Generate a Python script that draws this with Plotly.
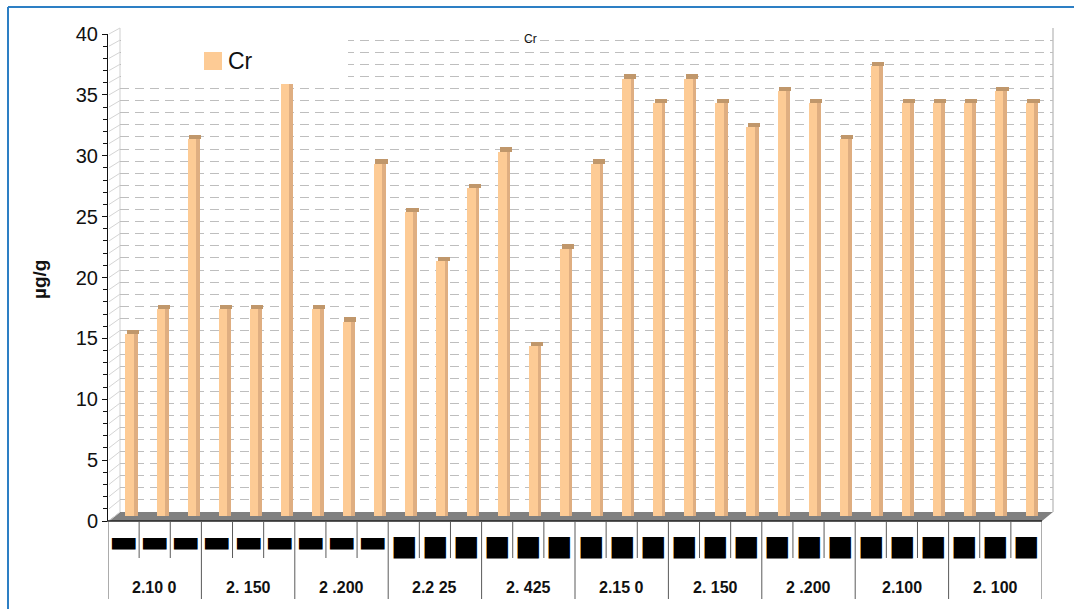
import plotly.graph_objects as go

# ---------------- data ----------------
cr_values = [15, 17, 31, 17, 17, 36, 17, 16, 29, 25, 21, 27, 30, 14, 22,
             29, 36, 34, 36, 34, 32, 35, 34, 31, 37, 34, 34, 34, 35, 34]
group_labels = ["2.10 0", "2. 150", "2 .200", "2.2 25", "2. 425",
                "2.15 0", "2. 150", "2 .200", "2.100", "2. 100"]
sub_labels = (["▬"] * 9) + (["■"] * 21)
series_name = "Cr"
y_title = "µg/g"

W, H = 1074, 609
def fx(p):
    return p / W
def fy(p):
    return 1 - p / H

n = len(cr_values)
idx = list(range(n))

fig = go.Figure()

# back wall grid subplot (x, y)
fig.add_trace(go.Scatter(x=[], y=[], xaxis="x", yaxis="y", showlegend=False, hoverinfo="skip"))

# bars (x2, y2)
bar_w = 0.39
fig.add_trace(go.Bar(x=idx, y=cr_values, xaxis="x2", yaxis="y2", name=series_name,
                     width=bar_w, offset=-bar_w / 2, marker=dict(color="#FDCB95", line=dict(width=0)),
                     showlegend=False, hoverinfo="skip"))
fig.add_trace(go.Bar(x=idx, y=cr_values, xaxis="x2", yaxis="y2",
                     width=0.115, offset=bar_w / 2 - 0.115, marker=dict(color="#DFAE81", line=dict(width=0)),
                     showlegend=False, hoverinfo="skip"))
fig.add_trace(go.Bar(x=idx, y=[0.35] * n, base=cr_values, xaxis="x2", yaxis="y2",
                     width=bar_w, offset=-bar_w / 2 + 0.05, marker=dict(color="#C0976B", line=dict(width=0)),
                     showlegend=False, hoverinfo="skip"))

# front axis subplot (x3, y3)
fig.add_trace(go.Scatter(x=[], y=[], xaxis="x3", yaxis="y3", showlegend=False, hoverinfo="skip"))

shapes = []
# floor
shapes.append(dict(type="path", xref="paper", yref="paper", layer="below",
                   path=f"M {fx(108)},{fy(521)} L {fx(120)},{fy(512)} L {fx(1053)},{fy(512)} L {fx(1042)},{fy(521)} Z",
                   fillcolor="#808080", line=dict(width=0)))
# back wall edges
shapes.append(dict(type="line", xref="paper", yref="paper", layer="below",
                   x0=fx(120), x1=fx(120), y0=fy(512), y1=fy(28), line=dict(color="#CFCFCF", width=1)))
shapes.append(dict(type="line", xref="paper", yref="paper", layer="below",
                   x0=fx(1053), x1=fx(1053), y0=fy(512), y1=fy(28), line=dict(color="#C4C4C4", width=1.5)))
# side wall diagonals
for v in range(0, 41):
    y_front = 521 - v * (487 / 40)
    y_back = 512 - v * (484 / 40)
    shapes.append(dict(type="line", xref="paper", yref="paper", layer="below",
                       x0=fx(109), x1=fx(120), y0=fy(y_front), y1=fy(y_back),
                       line=dict(color="#D4D4D4", width=1)))
# front edge
shapes.append(dict(type="line", xref="paper", yref="paper", layer="above",
                   x0=fx(107), x1=fx(1042), y0=fy(521), y1=fy(521), line=dict(color="#222222", width=1.5)))
# category table dividers
for i in range(n + 1):
    bottom = 599 if i % 3 == 0 else 558
    shapes.append(dict(type="line", xref="x3", yref="paper", layer="above",
                       x0=i - 0.5, x1=i - 0.5, y0=fy(521), y1=fy(bottom),
                       line=dict(color="#5A5A5A", width=1)))
# legend box
shapes.append(dict(type="rect", xref="paper", yref="paper", layer="above",
                   x0=fx(121), x1=fx(348), y0=fy(84), y1=fy(30), fillcolor="white", line=dict(width=0)))
shapes.append(dict(type="rect", xref="paper", yref="paper", layer="above",
                   x0=fx(204), x1=fx(222), y0=fy(70), y1=fy(52), fillcolor="#FDCB95", line=dict(width=0)))
# outer blue frame (top and left visible)
shapes.append(dict(type="line", xref="paper", yref="paper", layer="above",
                   x0=fx(8), x1=1.0, y0=fy(7), y1=fy(7), line=dict(color="#2D7FC4", width=2)))
shapes.append(dict(type="line", xref="paper", yref="paper", layer="above",
                   x0=fx(8), x1=fx(8), y0=fy(7), y1=0.0, line=dict(color="#2D7FC4", width=2)))

annotations = []
for i, s in enumerate(sub_labels):
    small = (s == "▬")
    annotations.append(dict(xref="x3", yref="paper", x=i, y=fy(541 if small else 545), text=s, showarrow=False,
                            font=dict(family="DejaVu Sans", size=(31 if small else 28), color="black"),
                            xanchor="center", yanchor="middle"))
for g, lab in enumerate(group_labels):
    annotations.append(dict(xref="x3", yref="paper", x=3 * g + 1, y=fy(587), text=f"<b>{lab}</b>",
                            showarrow=False, font=dict(family="Liberation Sans", size=16, color="#111111"),
                            xanchor="center", yanchor="middle"))
annotations.append(dict(xref="paper", yref="paper", x=fx(226), y=fy(61), text=series_name, showarrow=False,
                        font=dict(family="Liberation Sans", size=23, color="#111111"),
                        xanchor="left", yanchor="middle"))
annotations.append(dict(xref="paper", yref="paper", x=fx(530), y=fy(39), text=series_name, showarrow=False,
                        font=dict(family="Liberation Sans", size=12, color="#111111"),
                        xanchor="center", yanchor="middle"))
annotations.append(dict(xref="paper", yref="paper", x=fx(39), y=fy(280), text=f"<b>{y_title}</b>",
                        textangle=-90, showarrow=False,
                        font=dict(family="Liberation Sans", size=19, color="#111111"),
                        xanchor="center", yanchor="middle"))

fig.update_layout(
    width=W, height=H,
    margin=dict(l=0, r=0, t=0, b=0, pad=0, autoexpand=False),
    paper_bgcolor="white", plot_bgcolor="rgba(0,0,0,0)",
    barmode="overlay", bargap=0,
    showlegend=False,
    shapes=shapes, annotations=annotations,
    xaxis=dict(domain=[fx(120), fx(1053)], range=[-0.5, n - 0.5], visible=False, anchor="y", automargin=False),
    yaxis=dict(domain=[fy(512), fy(28)], range=[0, 40], anchor="x", dtick=1, automargin=False,
               showticklabels=False, ticks="", showline=False, zeroline=False,
               showgrid=True, gridcolor="#BEBEBE", griddash="9px,6px", gridwidth=1),
    xaxis2=dict(domain=[fx(115.5), fx(1047)], range=[-0.5, n - 0.5], visible=False, anchor="y2", automargin=False),
    yaxis2=dict(domain=[fy(516), fy(30)], range=[0, 40], anchor="x2", visible=False, automargin=False),
    xaxis3=dict(domain=[fx(108), fx(1042)], range=[-0.5, n - 0.5], visible=False, anchor="y3", automargin=False),
    yaxis3=dict(domain=[fy(521), fy(34)], range=[0, 40], anchor="x3", side="left", automargin=False,
                showline=True, linecolor="#111111", linewidth=1,
                ticks="outside", ticklen=5, tickwidth=1, tickcolor="#111111", dtick=5,
                minor=dict(dtick=1, ticks="outside", ticklen=4, tickcolor="#111111", showgrid=False),
                tickfont=dict(family="Liberation Sans", size=20, color="#111111"),
                showgrid=False, zeroline=False),
)

pin_script = """
var gd = document.getElementById('{plot_id}');
document.documentElement.style.margin = '0';
document.body.style.margin = '0';
document.body.style.overflow = 'hidden';
gd.style.position = 'fixed';
gd.style.left = '0px';
gd.style.top = '0px';
"""

fig.write_html("out.html", post_script=pin_script, config={"displayModeBar": False})
